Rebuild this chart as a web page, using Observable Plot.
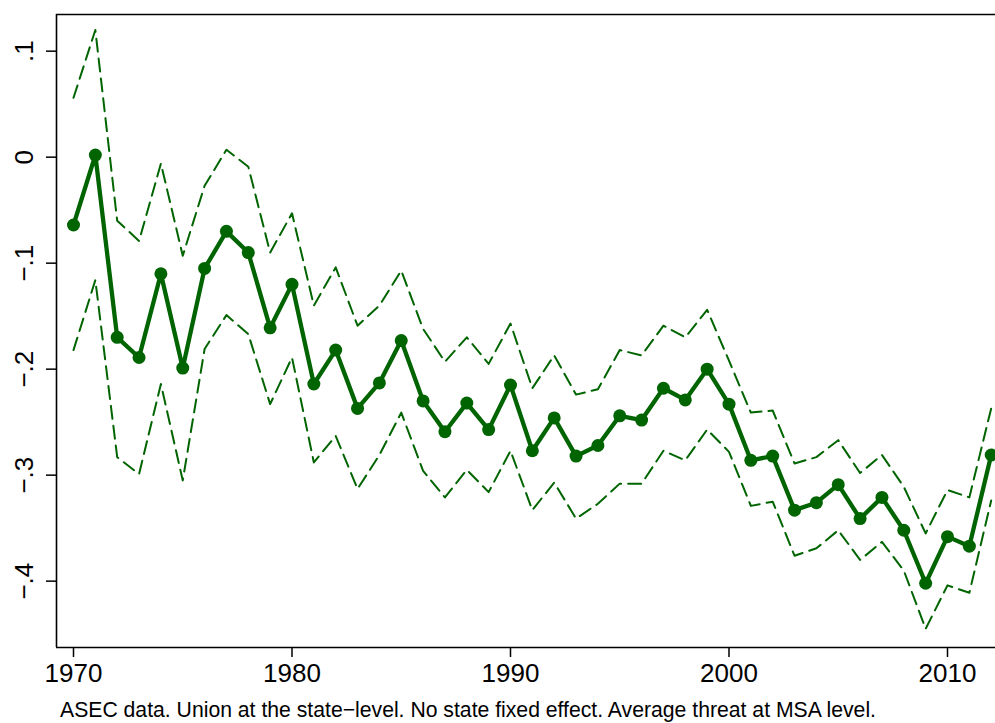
<!DOCTYPE html>
<html>
<head>
<meta charset="utf-8">
<script src="https://cdn.jsdelivr.net/npm/d3@7"></script>
<script src="https://cdn.jsdelivr.net/npm/@observablehq/plot@0.6"></script>
<style>
  body { margin: 0; background: #fff; font-family: "Liberation Sans", Arial, sans-serif; }
  #caption { font-size: 21.2px; margin-left: 60px; line-height: 24px; margin-top: 8px; color: #000; white-space: nowrap; }
</style>
</head>
<body>
<div id="chart"></div>
<div id="caption">ASEC data. Union at the state−level. No state fixed effect. Average threat at MSA level.</div>
<script>
const years = [1970,1971,1972,1973,1974,1975,1976,1977,1978,1979,
               1980,1981,1982,1983,1984,1985,1986,1987,1988,1989,
               1990,1991,1992,1993,1994,1995,1996,1997,1998,1999,
               2000,2001,2002,2003,2004,2005,2006,2007,2008,2009,
               2010,2011,2012];
const estimate = [-0.064, 0.002, -0.170, -0.189, -0.110, -0.199, -0.105, -0.070, -0.090, -0.161,
                  -0.120, -0.214, -0.182, -0.237, -0.213, -0.173, -0.230, -0.259, -0.232, -0.257,
                  -0.215, -0.277, -0.246, -0.282, -0.272, -0.244, -0.248, -0.218, -0.229, -0.200,
                  -0.233, -0.286, -0.282, -0.333, -0.326, -0.309, -0.341, -0.321, -0.352, -0.402,
                  -0.358, -0.367, -0.281];
const upper = [0.056, 0.120, -0.060, -0.079, -0.006, -0.093, -0.027, 0.007, -0.009, -0.090,
               -0.053, -0.140, -0.104, -0.159, -0.140, -0.107, -0.162, -0.193, -0.170, -0.195,
               -0.157, -0.218, -0.187, -0.224, -0.219, -0.182, -0.187, -0.159, -0.170, -0.144,
               -0.192, -0.241, -0.239, -0.289, -0.283, -0.267, -0.298, -0.281, -0.311, -0.355,
               -0.314, -0.321, -0.237];
const lower = [-0.182, -0.116, -0.283, -0.299, -0.214, -0.305, -0.181, -0.149, -0.167, -0.233,
               -0.189, -0.288, -0.263, -0.313, -0.281, -0.241, -0.296, -0.321, -0.295, -0.316,
               -0.277, -0.333, -0.307, -0.341, -0.327, -0.308, -0.308, -0.277, -0.286, -0.257,
               -0.278, -0.329, -0.325, -0.376, -0.369, -0.352, -0.380, -0.363, -0.390, -0.445,
               -0.404, -0.411, -0.324];
const xTicks = [1970, 1980, 1990, 2000, 2010];
const yTicks = [0.1, 0, -0.1, -0.2, -0.3, -0.4];
const yTickLabels = [".1", "0", "−.1", "−.2", "−.3", "−.4"];
const xDomain = [1969.222, 2012.197];
const yDomain = [-0.4626, 0.1346];

const data = years.map((year, i) => ({year, est: estimate[i], hi: upper[i], lo: lower[i]}));
const green = "#006400";

const chart = Plot.plot({
  width: 995,
  height: 690,
  marginLeft: 56,
  marginRight: 0,
  marginTop: 14,
  marginBottom: 43,
  style: {fontFamily: "Liberation Sans, Arial, sans-serif", fontSize: "26px", color: "#000", background: "#fff"},
  x: {domain: xDomain},
  y: {domain: yDomain},
  marks: [
    Plot.ruleX([xDomain[0]], {stroke: "#000", strokeWidth: 1.6}),
    Plot.ruleY(yDomain, {stroke: "#000", strokeWidth: 1.6}),
    Plot.axisX({ticks: xTicks, tickFormat: d => String(d), tickSize: 10, tickPadding: 6, strokeWidth: 1.5, fontSize: 26, label: null}),
    Plot.axisY({ticks: yTicks, tickFormat: d => yTickLabels[yTicks.indexOf(d)], tickSize: 10, tickPadding: 14, tickRotate: -90, strokeWidth: 1.5, fontSize: 26, label: null}),
    Plot.line(data, {x: "year", y: "hi", stroke: green, strokeWidth: 2, strokeDasharray: "13,7"}),
    Plot.line(data, {x: "year", y: "lo", stroke: green, strokeWidth: 2, strokeDasharray: "13,7"}),
    Plot.line(data, {x: "year", y: "est", stroke: green, strokeWidth: 4.3}),
    Plot.dot(data, {x: "year", y: "est", r: 6.5, fill: green, stroke: "none"})
  ]
});
document.getElementById("chart").appendChild(chart);
</script>
</body>
</html>
